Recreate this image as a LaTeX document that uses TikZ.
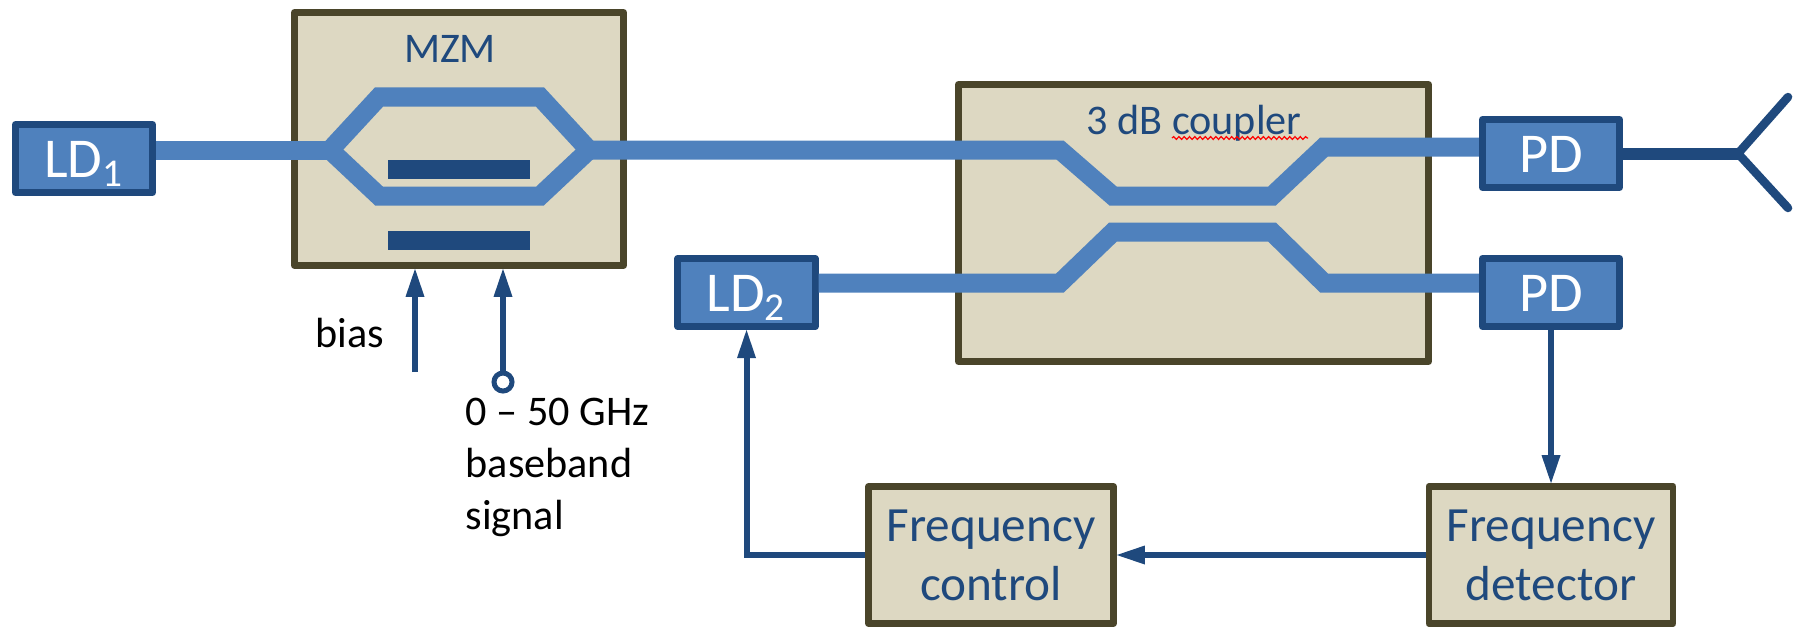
\documentclass[tikz,border=0pt]{standalone}
\usepackage{fontspec}
\setmainfont{Carlito}
\usetikzlibrary{arrows.meta,decorations.pathmorphing}
\definecolor{guideblue}{HTML}{4F81BD}
\definecolor{darkblue}{HTML}{1F497D}
\definecolor{boxtan}{HTML}{DDD8C2}
\definecolor{boxedge}{HTML}{4A452A}

\begin{document}
\begin{tikzpicture}[x=0.01cm,y=-0.01cm,
  >={Triangle[length=2.8mm,width=1.9mm,fill=darkblue,line width=0pt]},
  laser/.style={rectangle,fill=guideblue,draw=darkblue,line width=0.07cm,
  line join=round,text=white,minimum width=1.37cm,minimum height=0.68cm,
  inner sep=0pt,text height=0.37cm,text depth=0pt,font=\fontsize{16}{19}\selectfont},
  tanbox/.style={rectangle,fill=boxtan,draw=boxedge,line width=0.065cm,
  line join=round,text=darkblue,inner sep=0pt,align=center,
  font=\fontsize{14}{16.8}\selectfont},
  title/.style={text=darkblue,inner sep=0pt,anchor=base,
  font=\fontsize{12}{14}\selectfont},
  caption/.style={text=black,inner sep=0pt,align=left,
  font=\fontsize{12}{14.8}\selectfont},
  guide/.style={draw=guideblue,line width=0.19cm,line join=miter},
  electrode/.style={rectangle,fill=darkblue,minimum width=1.42cm,
  minimum height=0.19cm,inner sep=0pt},
  wire/.style={->,draw=darkblue,line width=0.06cm},
  antenna/.style={draw=darkblue,line width=0.085cm,line cap=round}]

  \useasboundingbox (0,0) rectangle (1801,627);

  % tan boxes first, the waveguides run over them
  \node[tanbox, minimum width=3.29cm, minimum height=2.53cm] (MZM) at (459,139) {};
  \node[tanbox, minimum width=4.70cm, minimum height=2.77cm] (CPL) at (1193.5,223) {};
  \node[tanbox, minimum width=2.45cm, minimum height=1.37cm] (CTRL) at (991,555) {Frequency\\control};
  \node[tanbox, minimum width=2.44cm, minimum height=1.37cm] (DET) at (1551,555) {Frequency\\detector};

  \node[laser] (LD1) at (84,158.5) {LD\textsubscript{1}};
  \node[laser] (LD2) at (746.5,292.5) {LD\textsubscript{2}};
  \node[laser] (PD1) at (1551,153.5) {PD};
  \node[laser] (PD2) at (1551,292.5) {PD};

  \node[title] (MZMtext) at (450,62) {MZM};
  \node[title] (CPLtext) at (1194,134) {3 dB coupler};
  \coordinate (wavyA) at (1172,138);
  \coordinate (wavyB) at (1308,138);
  \draw[red,line width=0.012cm,decorate,decoration={snake,amplitude=0.4pt,segment length=1.5pt}]
    (wavyA) -- (wavyB);

  \node[electrode] (E1) at (459,169.5) {};
  \node[electrode] (E2) at (459,240.5) {};

  % Mach-Zehnder arms
  \coordinate (split) at (330,150);
  \coordinate (merge) at (589,150);
  \coordinate (inA) at (1060,150);
  \coordinate (inB) at (1060,283);
  \coordinate (outA) at (1324,147);
  \coordinate (outB) at (1324,283);
  \draw[guide] (split -| LD1.east) -- (split);
  \draw[guide] (split) -- (379,97) -- (540,97) -- (merge);
  \draw[guide] (split) -- (379,196) -- (540,196) -- (merge);
  % the two coupler branches
  \draw[guide] (merge) -- (inA) -- (1113,196) -- (1272,196) -- (outA) -- (outA -| PD1.west);
  \draw[guide] (inB -| LD2.east) -- (inB) -- (1113,232) -- (1272,232) -- (outB) -- (outB -| PD2.west);

  % antenna
  \coordinate (feed) at (1738,153.5);
  \coordinate (tipA) at (1788,97);
  \coordinate (tipB) at (1788,208);
  \draw[draw=darkblue,line width=0.12cm] (PD1.east) -- (feed);
  \draw[antenna] (tipA) -- (feed) -- (tipB);

  % drive inputs
  \coordinate (biasin) at (415,372);
  \node[circle,draw=darkblue,line width=0.05cm,minimum size=0.18cm,inner sep=0pt] (RF) at (503,382) {};
  \draw[wire] (biasin) -- (biasin |- MZM.south);
  \draw[wire] (RF.north) -- (RF.north |- MZM.south);

  \node[caption,anchor=base] (biastext) at (350,347) {bias};
  \node[caption,anchor=north west] (RFtext) at (465,397) {0 -- 50 GHz\\baseband\\signal};

  \path[wire]
    (PD2) edge (DET)
    (DET) edge (CTRL);
  \draw[wire] (CTRL.west) -| (LD2.south);
\end{tikzpicture}
\end{document}
